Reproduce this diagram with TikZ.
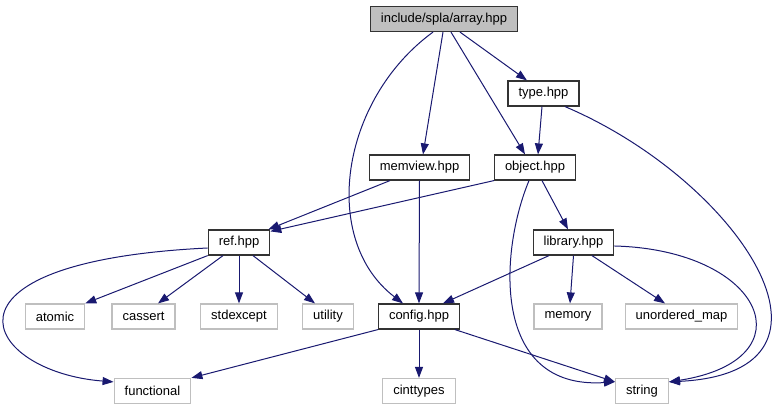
\documentclass[tikz,border=0pt]{standalone}
\usepackage{fontspec}
\setmainfont{Liberation Sans}
\usetikzlibrary{arrows.meta}
\definecolor{edgeblue}{HTML}{191970}
\definecolor{sysgray}{HTML}{BFBFBF}
\begin{document}
\begin{tikzpicture}[
    x=1pt, y=-1pt,
    font=\fontsize{13}{15}\selectfont,
    hdr/.style={draw=black!80, line width=1.2pt, rectangle, minimum height=25pt, inner xsep=10.5pt, inner ysep=0pt},
    root/.style={hdr, fill=sysgray},
    sys/.style={draw=sysgray, line width=1.2pt, rectangle, minimum height=25pt, inner xsep=10.5pt, inner ysep=0pt},
    arrow/.style={-{Triangle[length=11pt,width=8pt]}, line width=1pt, edgeblue}
]
\useasboundingbox (0,0) rectangle (780,411);

% Root
\node[root] (array) at (444,19) {include/spla/array.hpp};

% Project headers
\node[hdr] (type)    at (543.5,93.5)  {type.hpp};
\node[hdr] (memview) at (419.5,167.5) {memview.hpp};
\node[hdr] (object)  at (535,167.5)   {object.hpp};
\node[hdr] (ref)     at (239,242.5)   {ref.hpp};
\node[hdr] (library) at (573.5,242.5) {library.hpp};
\node[hdr] (config)  at (419,316.5)   {config.hpp};

% System headers
\node[sys] (atomic)     at (55,316.5)    {atomic};
\node[sys] (cassert)    at (143.5,316.5) {cassert};
\node[sys] (stdexcept)  at (239,316.5)   {stdexcept};
\node[sys] (utility)    at (328,316.5)   {utility};
\node[sys] (memory)     at (568,316.5)   {memory};
\node[sys] (unordered)  at (681.5,316.5) {unordered\_map};
\node[sys] (functional) at (152.5,391)   {functional};
\node[sys] (cinttypes)  at (419,391)     {cinttypes};
\node[sys] (string)     at (642,391)     {string};

% Arrows from the root
\draw[arrow] ([xshift=16pt]array.south) -- ([xshift=-16.5pt]type.north);
\draw[arrow] ([xshift=-1pt]array.south) -- ([xshift=3.5pt]memview.north);
\draw[arrow] ([xshift=7pt]array.south) -- ([xshift=-10pt]object.north);
\draw[arrow] ([xshift=-11pt]array.south) .. controls (340,100) and (320,240) .. ([xshift=-16pt]config.north);

% type.hpp
\draw[arrow] ([xshift=-1.5pt]type.south) -- ([xshift=3pt]object.north);
\draw[arrow] ([xshift=21.5pt]type.south) .. controls (738,180) and (866,372) .. ([yshift=-4pt]string.north east);

% memview.hpp
\draw[arrow] ([xshift=-29.5pt]memview.south) -- ([xshift=-2pt]ref.north east);
\draw[arrow] (memview.south) -- (config.north);

% object.hpp
\draw[arrow] (object.south west) -- ([yshift=-2pt]ref.north east);
\draw[arrow] ([xshift=7pt]object.south) -- ([xshift=-5.5pt]library.north);
\draw[arrow] ([xshift=-6pt]object.south) .. controls (500,250) and (490,390) .. ([yshift=-4pt]string.north west);

% ref.hpp
\draw[arrow] (ref.south west) -- (atomic.north east);
\draw[arrow] ([xshift=-16pt]ref.south) -- ([xshift=14.5pt]cassert.north);
\draw[arrow] (ref.south) -- (stdexcept.north);
\draw[arrow] ([xshift=14pt]ref.south) -- ([xshift=-13pt]utility.north);
\draw[arrow] ([yshift=-5.5pt]ref.west) .. controls (-80,262) and (-15,372) .. ([yshift=-4pt]functional.north west);

% library.hpp
\draw[arrow] ([xshift=-24.5pt]library.south) -- ([xshift=24pt]config.north);
\draw[arrow] (library.south) -- ([xshift=2pt]memory.north);
\draw[arrow] ([xshift=18.5pt]library.south) -- ([xshift=-16.5pt]unordered.north);
\draw[arrow] ([yshift=-3.5pt]library.east) .. controls (765,250) and (810,360) .. ([yshift=-4pt]string.north east);

% config.hpp
\draw[arrow] (config.south west) -- (functional.north east);
\draw[arrow] (config.south) -- (cinttypes.north);
\draw[arrow] ([xshift=36pt]config.south) -- ([yshift=-4pt]string.north west);

\end{tikzpicture}
\end{document}
